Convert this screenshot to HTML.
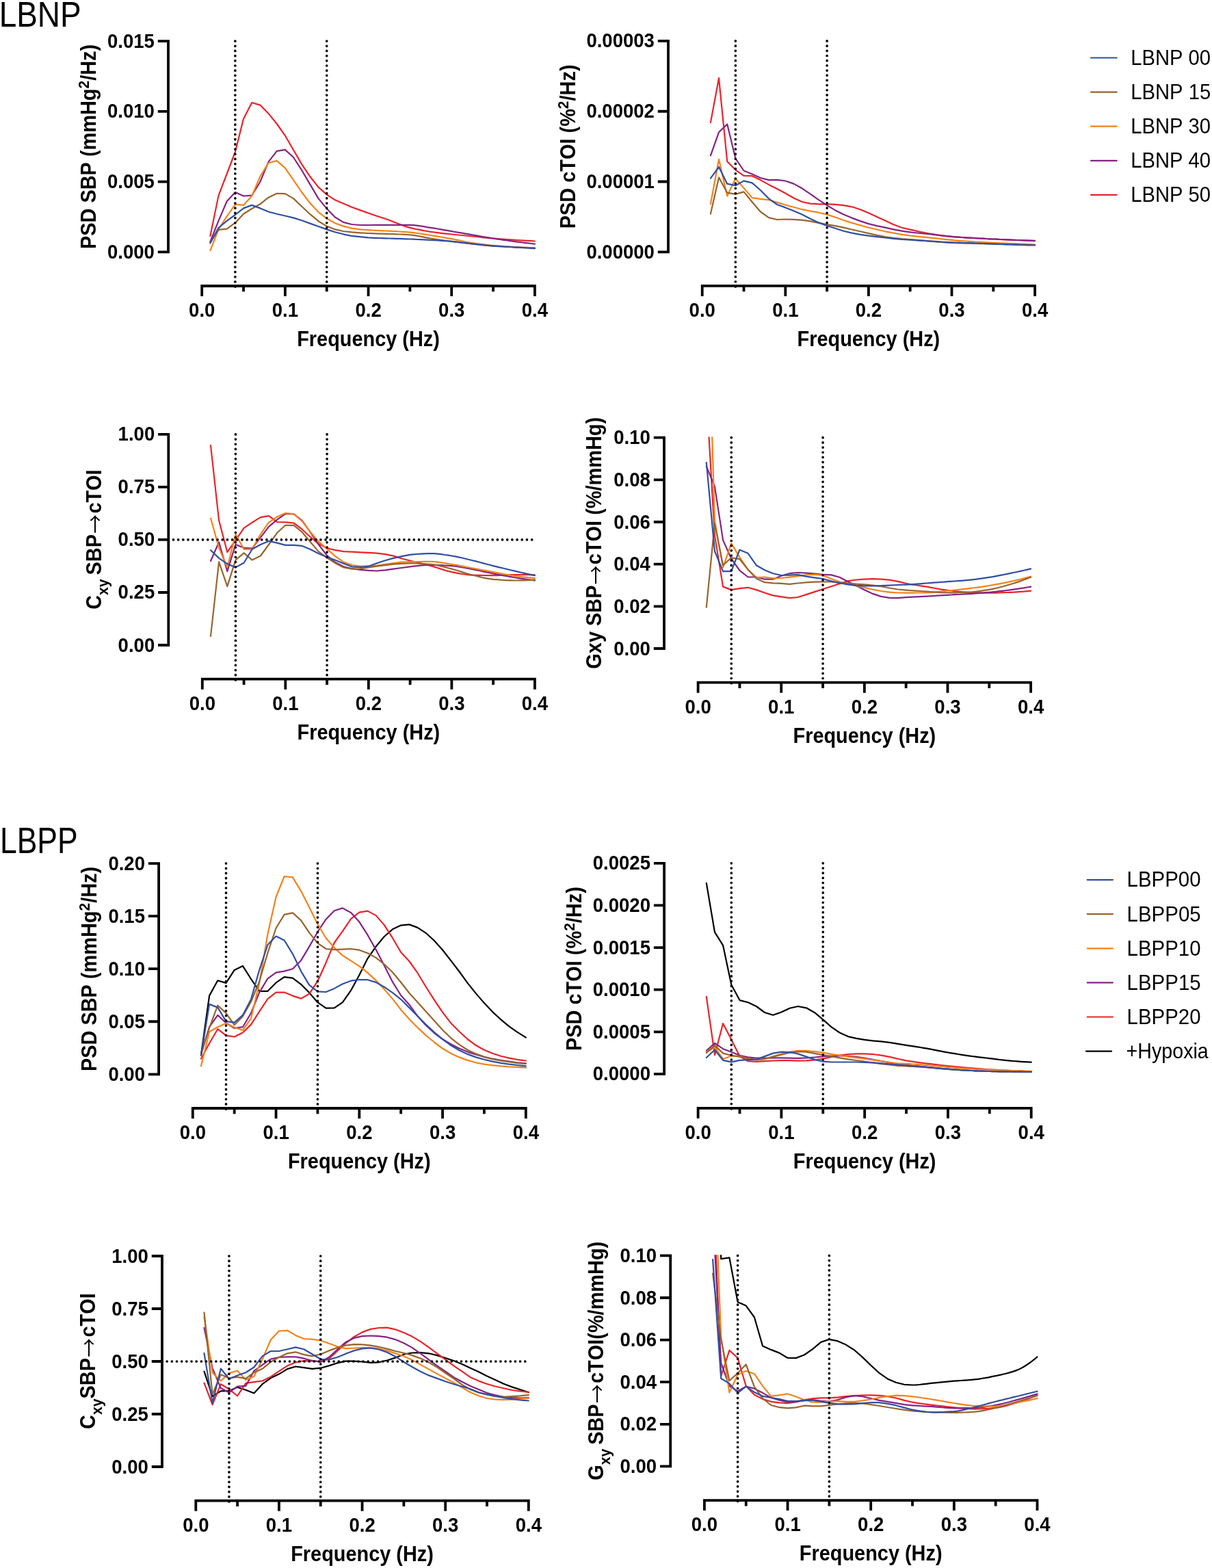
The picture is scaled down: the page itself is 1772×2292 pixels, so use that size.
<!DOCTYPE html><html><head><meta charset="utf-8"><title>LBNP / LBPP spectral analysis</title>
<style>html,body{margin:0;padding:0;background:#fff;}svg{display:block;}text{font-kerning:none;}.t{font-family:"Liberation Sans",Arial,sans-serif;font-weight:bold;fill:#000;}.r{font-family:"Liberation Sans",Arial,sans-serif;font-weight:normal;fill:#000;}.a{font-family:"Noto Sans CJK JP","Liberation Sans",sans-serif;font-weight:normal;}</style></head><body>
<svg xmlns="http://www.w3.org/2000/svg" width="1772" height="2292" viewBox="0 0 1772 2292">
<rect width="1772" height="2292" fill="#fff"/>
<defs>
<clipPath id="cp1"><rect x="285.2" y="59.0" width="506.7" height="377.9"/></clipPath>
<clipPath id="cp2"><rect x="1016.7" y="58.9" width="506.4" height="378.0"/></clipPath>
<clipPath id="cp3"><rect x="285.8" y="633.8" width="506.1" height="377.8"/></clipPath>
<clipPath id="cp4"><rect x="1010.6" y="638.6" width="506.5" height="377.9"/></clipPath>
<clipPath id="cp5"><rect x="271.8" y="1261.0" width="507.0" height="377.9"/></clipPath>
<clipPath id="cp6"><rect x="1010.6" y="1260.7" width="507.1" height="378.0"/></clipPath>
<clipPath id="cp7"><rect x="276.3" y="1834.9" width="506.5" height="377.7"/></clipPath>
<clipPath id="cp8"><rect x="1019.9" y="1834.3" width="506.6" height="377.7"/></clipPath>
</defs>
<text class="r" transform="translate(-1.37 38.60) scale(0.8790 1)" font-size="52.3" text-anchor="start">LBNP</text>
<text class="r" transform="translate(-0.05 1246.60) scale(0.8421 1)" font-size="52.8" text-anchor="start">LBPP</text>
<g clip-path="url(#cp1)" fill="none" stroke-width="2.2" stroke-linejoin="round" stroke-linecap="round">
<path d="M307.4 344.8 L319.5 285.9 L331.7 254.0 L343.9 222.0 L356.0 173.7 L368.2 150.0 L380.4 153.6 L392.5 165.9 L404.7 181.0 L416.9 198.3 L429.0 219.2 L441.2 240.1 L453.4 258.3 L465.5 273.6 L477.7 284.4 L489.9 292.3 L502.0 297.5 L514.2 302.7 L526.4 307.1 L538.5 311.5 L543.6 313.3 L548.7 315.0 L553.8 316.7 L558.8 318.3 L563.9 320.0 L569.0 321.8 L574.0 323.7 L579.1 325.7 L584.2 327.7 L589.2 329.7 L594.3 331.4 L599.4 332.9 L604.5 334.1 L609.5 335.2 L614.6 336.2 L619.7 337.2 L624.7 338.0 L629.8 338.8 L634.9 339.5 L639.9 340.2 L645.0 340.8 L650.1 341.4 L655.2 341.9 L660.2 342.5 L665.3 343.0 L670.4 343.5 L675.4 344.0 L680.5 344.5 L685.6 345.0 L690.6 345.5 L695.7 346.0 L700.8 346.5 L705.9 347.1 L710.9 347.6 L716.0 348.1 L721.1 348.5 L726.1 348.9 L731.2 349.3 L736.3 349.7 L741.3 350.0 L746.4 350.4 L751.5 350.7 L756.6 351.0 L761.6 351.3 L766.7 351.6 L771.8 351.9 L776.8 352.2 L781.9 352.5" stroke="#ec2229"/>
<path d="M307.4 353.2 L319.5 322.9 L331.7 294.3 L343.9 280.9 L356.0 286.5 L368.2 285.7 L380.4 265.7 L392.5 236.6 L404.7 220.9 L416.9 218.9 L429.0 230.0 L441.2 248.8 L453.4 269.6 L465.5 290.1 L477.7 304.9 L489.9 317.5 L502.0 324.9 L514.2 328.0 L526.4 329.0 L538.5 329.0 L543.6 329.0 L548.7 328.9 L553.8 328.9 L558.8 328.9 L563.9 328.8 L569.0 328.8 L574.0 328.8 L579.1 328.8 L584.2 328.8 L589.2 328.8 L594.3 328.9 L599.4 328.9 L604.5 329.1 L609.5 329.6 L614.6 330.4 L619.7 331.2 L624.7 332.1 L629.8 332.9 L634.9 333.7 L639.9 334.5 L645.0 335.4 L650.1 336.3 L655.2 337.2 L660.2 338.1 L665.3 339.0 L670.4 339.8 L675.4 340.7 L680.5 341.6 L685.6 342.4 L690.6 343.3 L695.7 344.2 L700.8 345.1 L705.9 346.0 L710.9 346.8 L716.0 347.7 L721.1 348.5 L726.1 349.3 L731.2 350.0 L736.3 350.8 L741.3 351.5 L746.4 352.2 L751.5 352.9 L756.6 353.6 L761.6 354.2 L766.7 354.8 L771.8 355.4 L776.8 356.0 L781.9 356.6" stroke="#852285"/>
<path d="M307.4 366.1 L319.5 335.3 L331.7 316.2 L343.9 298.8 L356.0 299.9 L368.2 286.5 L380.4 257.9 L392.5 238.2 L404.7 234.9 L416.9 245.6 L429.0 263.1 L441.2 281.0 L453.4 297.1 L465.5 310.1 L477.7 319.3 L489.9 326.2 L502.0 330.6 L514.2 333.6 L526.4 335.4 L538.5 336.2 L543.6 336.5 L548.7 336.8 L553.8 337.0 L558.8 337.3 L563.9 337.5 L569.0 337.7 L574.0 338.0 L579.1 338.2 L584.2 338.5 L589.2 338.8 L594.3 339.2 L599.4 339.6 L604.5 340.1 L609.5 340.8 L614.6 341.5 L619.7 342.3 L624.7 343.2 L629.8 344.0 L634.9 344.8 L639.9 345.6 L645.0 346.5 L650.1 347.4 L655.2 348.3 L660.2 349.2 L665.3 350.2 L670.4 351.2 L675.4 352.3 L680.5 353.3 L685.6 354.3 L690.6 355.1 L695.7 355.8 L700.8 356.5 L705.9 357.2 L710.9 357.8 L716.0 358.3 L721.1 358.8 L726.1 359.2 L731.2 359.7 L736.3 360.1 L741.3 360.4 L746.4 360.7 L751.5 361.0 L756.6 361.3 L761.6 361.5 L766.7 361.7 L771.8 361.9 L776.8 362.1 L781.9 362.2" stroke="#f4821b"/>
<path d="M307.4 353.8 L319.5 335.8 L331.7 334.7 L343.9 325.7 L356.0 312.8 L368.2 305.0 L380.4 298.3 L392.5 288.7 L404.7 282.8 L416.9 283.1 L429.0 290.1 L441.2 301.8 L453.4 313.2 L465.5 323.2 L477.7 330.6 L489.9 335.4 L502.0 338.0 L514.2 339.4 L526.4 340.3 L538.5 341.0 L543.6 341.2 L548.7 341.4 L553.8 341.6 L558.8 341.7 L563.9 341.9 L569.0 342.0 L574.0 342.2 L579.1 342.3 L584.2 342.5 L589.2 342.7 L594.3 343.0 L599.4 343.3 L604.5 343.8 L609.5 344.6 L614.6 345.6 L619.7 346.6 L624.7 347.6 L629.8 348.5 L634.9 349.3 L639.9 350.0 L645.0 350.8 L650.1 351.5 L655.2 352.2 L660.2 352.9 L665.3 353.6 L670.4 354.2 L675.4 354.8 L680.5 355.4 L685.6 356.0 L690.6 356.6 L695.7 357.2 L700.8 357.7 L705.9 358.2 L710.9 358.7 L716.0 359.2 L721.1 359.6 L726.1 359.9 L731.2 360.2 L736.3 360.5 L741.3 360.8 L746.4 361.0 L751.5 361.3 L756.6 361.6 L761.6 361.8 L766.7 362.1 L771.8 362.3 L776.8 362.6 L781.9 362.8" stroke="#98642c"/>
<path d="M307.4 355.5 L319.5 333.0 L331.7 322.9 L343.9 314.0 L356.0 304.4 L368.2 299.9 L380.4 304.4 L392.5 309.5 L404.7 312.8 L416.9 315.5 L429.0 318.4 L441.2 322.3 L453.4 326.6 L465.5 331.0 L477.7 335.4 L489.9 339.3 L502.0 342.3 L514.2 344.9 L526.4 346.2 L538.5 347.3 L543.6 347.6 L548.7 347.8 L553.8 348.0 L558.8 348.2 L563.9 348.3 L569.0 348.5 L574.0 348.6 L579.1 348.8 L584.2 348.9 L589.2 349.1 L594.3 349.3 L599.4 349.5 L604.5 349.7 L609.5 350.0 L614.6 350.2 L619.7 350.4 L624.7 350.7 L629.8 350.9 L634.9 351.2 L639.9 351.5 L645.0 351.8 L650.1 352.2 L655.2 352.5 L660.2 352.9 L665.3 353.3 L670.4 353.9 L675.4 354.5 L680.5 355.1 L685.6 355.7 L690.6 356.3 L695.7 356.9 L700.8 357.5 L705.9 358.1 L710.9 358.7 L716.0 359.2 L721.1 359.6 L726.1 359.9 L731.2 360.2 L736.3 360.5 L741.3 360.8 L746.4 361.0 L751.5 361.3 L756.6 361.6 L761.6 361.9 L766.7 362.2 L771.8 362.5 L776.8 362.8 L781.9 363.1" stroke="#2f4fa3"/>
</g>
<line x1="343.87" y1="60.10" x2="343.87" y2="419.11" stroke="#000" stroke-width="3.7" stroke-linecap="round" stroke-dasharray="0 7.180"/>
<line x1="477.71" y1="60.10" x2="477.71" y2="419.11" stroke="#000" stroke-width="3.7" stroke-linecap="round" stroke-dasharray="0 7.180"/>
<path d="M246.00 58.20 V370.20 M246.00 368.30 H230.80 M246.00 265.57 H230.80 M246.00 162.83 H230.80 M246.00 60.10 H230.80 M293.30 418.00 H783.80 M295.20 418.00 V433.00 M356.04 418.00 V426.30 M416.88 418.00 V433.00 M477.71 418.00 V426.30 M538.55 418.00 V433.00 M599.39 418.00 V426.30 M660.22 418.00 V433.00 M721.06 418.00 V426.30 M781.90 418.00 V433.00" stroke="#000" stroke-width="3.8" fill="none" stroke-linecap="butt"/>
<text class="t" transform="translate(225.90 377.80) scale(0.9630 1)" font-size="28.6" text-anchor="end">0.000</text>
<text class="t" transform="translate(225.90 275.07) scale(0.9630 1)" font-size="28.6" text-anchor="end">0.005</text>
<text class="t" transform="translate(225.90 172.33) scale(0.9630 1)" font-size="28.6" text-anchor="end">0.010</text>
<text class="t" transform="translate(225.90 69.60) scale(0.9630 1)" font-size="28.6" text-anchor="end">0.015</text>
<text class="t" transform="translate(295.20 463.30) scale(0.9630 1)" font-size="28.6" text-anchor="middle">0.0</text>
<text class="t" transform="translate(416.88 463.30) scale(0.9630 1)" font-size="28.6" text-anchor="middle">0.1</text>
<text class="t" transform="translate(538.55 463.30) scale(0.9630 1)" font-size="28.6" text-anchor="middle">0.2</text>
<text class="t" transform="translate(660.22 463.30) scale(0.9630 1)" font-size="28.6" text-anchor="middle">0.3</text>
<text class="t" transform="translate(781.90 463.30) scale(0.9630 1)" font-size="28.6" text-anchor="middle">0.4</text>
<text class="t" transform="translate(538.55 506.20) scale(0.9264 1)" font-size="31.2" text-anchor="middle">Frequency (Hz)</text>
<text class="t" transform="translate(139.70 362.16) rotate(-90) scale(0.9270 1)" x="-2.09" y="0" font-size="31.2"><tspan>PSD SBP (mmHg</tspan><tspan font-size="22.6" dy="-9.60">2</tspan><tspan dy="9.60">/Hz)</tspan></text>
<g clip-path="url(#cp2)" fill="none" stroke-width="2.2" stroke-linejoin="round" stroke-linecap="round">
<path d="M1038.9 179.1 L1051.0 114.2 L1063.2 235.9 L1075.3 248.3 L1087.5 256.9 L1099.7 257.2 L1111.8 263.1 L1124.0 269.9 L1136.1 276.1 L1148.3 282.5 L1160.5 289.5 L1172.6 295.0 L1184.8 297.6 L1196.9 298.4 L1209.1 298.4 L1221.3 298.9 L1233.4 300.1 L1245.6 302.3 L1257.7 306.2 L1269.9 311.3 L1282.1 316.9 L1294.2 322.6 L1306.4 328.2 L1318.5 332.7 L1330.7 335.6 L1335.8 336.7 L1340.8 337.9 L1345.9 339.0 L1351.0 340.0 L1356.0 341.0 L1361.1 341.9 L1366.2 342.7 L1371.2 343.5 L1376.3 344.2 L1381.4 344.8 L1386.4 345.4 L1391.5 345.9 L1396.6 346.3 L1401.6 346.7 L1406.7 347.0 L1411.8 347.3 L1416.8 347.6 L1421.9 347.9 L1427.0 348.2 L1432.0 348.5 L1437.1 348.7 L1442.2 349.0 L1447.2 349.3 L1452.3 349.5 L1457.4 349.7 L1462.4 350.0 L1467.5 350.2 L1472.6 350.4 L1477.6 350.6 L1482.7 350.8 L1487.8 351.0 L1492.8 351.2 L1497.9 351.3 L1503.0 351.5 L1508.0 351.7 L1513.1 351.8" stroke="#ec2229"/>
<path d="M1038.9 227.3 L1051.0 193.3 L1063.2 181.6 L1075.3 231.6 L1087.5 249.5 L1099.7 254.5 L1111.8 260.0 L1124.0 263.1 L1136.1 262.9 L1148.3 264.5 L1160.5 268.6 L1172.6 275.3 L1184.8 283.7 L1196.9 292.2 L1209.1 300.1 L1221.3 307.4 L1233.4 313.6 L1245.6 318.6 L1257.7 323.1 L1269.9 327.1 L1282.1 330.1 L1294.2 332.7 L1306.4 335.3 L1318.5 337.7 L1330.7 339.4 L1335.8 340.0 L1340.8 340.5 L1345.9 341.0 L1351.0 341.5 L1356.0 342.0 L1361.1 342.5 L1366.2 343.1 L1371.2 343.7 L1376.3 344.3 L1381.4 344.9 L1386.4 345.4 L1391.5 345.9 L1396.6 346.3 L1401.6 346.7 L1406.7 347.0 L1411.8 347.3 L1416.8 347.6 L1421.9 347.9 L1427.0 348.2 L1432.0 348.5 L1437.1 348.7 L1442.2 349.0 L1447.2 349.3 L1452.3 349.5 L1457.4 349.7 L1462.4 350.0 L1467.5 350.2 L1472.6 350.4 L1477.6 350.6 L1482.7 350.8 L1487.8 351.0 L1492.8 351.2 L1497.9 351.4 L1503.0 351.7 L1508.0 351.9 L1513.1 352.1" stroke="#852285"/>
<path d="M1038.9 298.3 L1051.0 232.8 L1063.2 286.6 L1075.3 260.7 L1087.5 274.9 L1099.7 289.1 L1111.8 290.9 L1124.0 292.2 L1136.1 295.9 L1148.3 299.5 L1160.5 302.8 L1172.6 306.2 L1184.8 308.5 L1196.9 310.7 L1209.1 313.6 L1221.3 317.5 L1233.4 322.0 L1245.6 325.9 L1257.7 329.3 L1269.9 332.7 L1282.1 335.5 L1294.2 338.3 L1306.4 340.6 L1318.5 342.8 L1330.7 344.5 L1335.8 345.1 L1340.8 345.6 L1345.9 346.1 L1351.0 346.6 L1356.0 347.1 L1361.1 347.6 L1366.2 348.2 L1371.2 348.7 L1376.3 349.3 L1381.4 349.9 L1386.4 350.4 L1391.5 350.9 L1396.6 351.3 L1401.6 351.8 L1406.7 352.1 L1411.8 352.5 L1416.8 352.9 L1421.9 353.2 L1427.0 353.5 L1432.0 353.8 L1437.1 354.1 L1442.2 354.4 L1447.2 354.6 L1452.3 354.9 L1457.4 355.1 L1462.4 355.4 L1467.5 355.6 L1472.6 355.8 L1477.6 356.0 L1482.7 356.2 L1487.8 356.4 L1492.8 356.6 L1497.9 356.8 L1503.0 357.1 L1508.0 357.3 L1513.1 357.5" stroke="#f4821b"/>
<path d="M1038.9 312.6 L1051.0 259.4 L1063.2 281.7 L1075.3 283.9 L1087.5 280.4 L1099.7 295.3 L1111.8 309.5 L1124.0 318.1 L1136.1 321.0 L1148.3 320.5 L1160.5 320.8 L1172.6 321.7 L1184.8 323.3 L1196.9 325.9 L1209.1 328.0 L1221.3 330.1 L1233.4 332.7 L1245.6 335.5 L1257.7 338.3 L1269.9 341.1 L1282.1 343.9 L1294.2 346.2 L1306.4 347.9 L1318.5 349.2 L1330.7 350.0 L1335.8 350.4 L1340.8 350.8 L1345.9 351.3 L1351.0 351.7 L1356.0 352.2 L1361.1 352.7 L1366.2 353.1 L1371.2 353.6 L1376.3 354.0 L1381.4 354.3 L1386.4 354.7 L1391.5 354.9 L1396.6 355.1 L1401.6 355.3 L1406.7 355.4 L1411.8 355.6 L1416.8 355.7 L1421.9 355.9 L1427.0 356.0 L1432.0 356.1 L1437.1 356.2 L1442.2 356.4 L1447.2 356.5 L1452.3 356.6 L1457.0 356.7 L1461.7 356.8 L1466.3 356.9 L1471.0 357.1 L1475.7 357.2 L1480.4 357.3 L1485.0 357.4 L1489.7 357.5 L1494.4 357.6 L1499.1 357.7 L1503.7 357.8 L1508.4 357.9 L1513.1 358.0" stroke="#98642c"/>
<path d="M1038.9 260.7 L1051.0 244.0 L1063.2 268.7 L1075.3 271.2 L1087.5 264.4 L1099.7 267.4 L1111.8 278.0 L1124.0 290.3 L1136.1 299.0 L1148.3 303.4 L1160.5 308.2 L1172.6 313.6 L1184.8 319.7 L1196.9 325.4 L1209.1 329.9 L1221.3 333.8 L1233.4 337.7 L1245.6 340.6 L1257.7 342.8 L1269.9 344.7 L1282.1 346.2 L1294.2 347.5 L1306.4 348.8 L1318.5 349.9 L1330.7 350.7 L1335.8 351.0 L1340.8 351.3 L1345.9 351.7 L1351.0 352.0 L1356.0 352.3 L1361.1 352.6 L1366.2 352.9 L1371.2 353.2 L1376.3 353.5 L1381.4 353.8 L1386.4 354.1 L1391.5 354.3 L1396.6 354.5 L1401.6 354.7 L1406.7 354.9 L1411.8 355.0 L1416.8 355.2 L1421.9 355.4 L1427.0 355.6 L1432.0 355.8 L1437.1 356.0 L1442.2 356.2 L1447.2 356.4 L1452.3 356.6 L1457.4 356.8 L1462.4 357.0 L1467.5 357.2 L1472.6 357.4 L1477.6 357.5 L1482.7 357.7 L1487.8 357.9 L1492.8 358.0 L1497.9 358.1 L1503.0 358.3 L1508.0 358.4 L1513.1 358.5" stroke="#2f4fa3"/>
</g>
<line x1="1075.34" y1="59.95" x2="1075.34" y2="418.96" stroke="#000" stroke-width="3.7" stroke-linecap="round" stroke-dasharray="0 7.180"/>
<line x1="1209.10" y1="59.95" x2="1209.10" y2="418.96" stroke="#000" stroke-width="3.7" stroke-linecap="round" stroke-dasharray="0 7.180"/>
<path d="M977.00 58.05 V370.20 M977.00 368.30 H961.80 M977.00 265.52 H961.80 M977.00 162.73 H961.80 M977.00 59.95 H961.80 M1024.80 417.95 H1515.00 M1026.70 417.95 V432.95 M1087.50 417.95 V426.25 M1148.30 417.95 V432.95 M1209.10 417.95 V426.25 M1269.90 417.95 V432.95 M1330.70 417.95 V426.25 M1391.50 417.95 V432.95 M1452.30 417.95 V426.25 M1513.10 417.95 V432.95" stroke="#000" stroke-width="3.8" fill="none" stroke-linecap="butt"/>
<text class="t" transform="translate(956.90 377.80) scale(0.9630 1)" font-size="28.6" text-anchor="end">0.00000</text>
<text class="t" transform="translate(956.90 275.02) scale(0.9630 1)" font-size="28.6" text-anchor="end">0.00001</text>
<text class="t" transform="translate(956.90 172.23) scale(0.9630 1)" font-size="28.6" text-anchor="end">0.00002</text>
<text class="t" transform="translate(956.90 69.45) scale(0.9630 1)" font-size="28.6" text-anchor="end">0.00003</text>
<text class="t" transform="translate(1026.70 463.25) scale(0.9630 1)" font-size="28.6" text-anchor="middle">0.0</text>
<text class="t" transform="translate(1148.30 463.25) scale(0.9630 1)" font-size="28.6" text-anchor="middle">0.1</text>
<text class="t" transform="translate(1269.90 463.25) scale(0.9630 1)" font-size="28.6" text-anchor="middle">0.2</text>
<text class="t" transform="translate(1391.50 463.25) scale(0.9630 1)" font-size="28.6" text-anchor="middle">0.3</text>
<text class="t" transform="translate(1513.10 463.25) scale(0.9630 1)" font-size="28.6" text-anchor="middle">0.4</text>
<text class="t" transform="translate(1269.90 506.15) scale(0.9264 1)" font-size="31.2" text-anchor="middle">Frequency (Hz)</text>
<text class="t" transform="translate(841.00 332.36) rotate(-90) scale(0.9270 1)" x="-2.09" y="0" font-size="31.2"><tspan>PSD cTOI (%</tspan><tspan font-size="22.6" dy="-9.60">2</tspan><tspan dy="9.60">/Hz)</tspan></text>
<g clip-path="url(#cp3)" fill="none" stroke-width="2.2" stroke-linejoin="round" stroke-linecap="round">
<path d="M308.0 651.0 L320.1 760.9 L332.3 807.0 L344.4 789.8 L356.6 771.9 L368.7 763.7 L380.9 756.1 L393.0 754.1 L405.2 763.0 L417.3 763.3 L429.5 764.5 L441.6 773.7 L453.8 785.0 L465.9 795.1 L478.1 801.3 L490.2 804.1 L502.4 806.1 L514.5 806.6 L526.7 807.3 L538.9 807.8 L551.0 808.6 L563.2 810.1 L575.3 812.6 L587.5 816.5 L599.6 819.5 L604.7 820.7 L609.7 822.0 L614.8 823.2 L619.9 824.5 L624.9 825.8 L630.0 827.1 L635.1 828.6 L640.1 830.2 L645.2 831.9 L650.2 833.5 L655.3 834.9 L660.4 836.1 L665.4 837.1 L670.5 838.1 L675.6 839.0 L680.6 839.7 L685.7 840.3 L690.8 840.6 L695.8 840.8 L700.9 840.9 L705.9 841.0 L711.0 841.1 L716.1 841.2 L721.1 841.2 L726.2 841.1 L731.3 840.9 L736.3 840.6 L741.4 840.4 L746.5 840.2 L751.5 840.1 L756.6 840.1 L761.6 840.1 L766.7 840.1 L771.8 840.2 L776.8 840.3 L781.9 840.4" stroke="#ec2229"/>
<path d="M308.0 820.0 L320.1 792.5 L332.3 835.1 L344.4 796.0 L356.6 800.8 L368.7 801.5 L380.9 785.7 L393.0 769.9 L405.2 759.6 L417.3 751.0 L429.5 751.3 L441.6 760.8 L453.8 778.2 L465.9 796.2 L478.1 812.0 L490.2 822.1 L502.4 828.3 L514.5 831.1 L526.7 832.8 L538.9 833.9 L551.0 834.5 L563.2 833.4 L575.3 831.7 L587.5 830.0 L599.6 828.3 L604.7 827.7 L609.7 827.2 L614.8 826.6 L619.9 826.2 L624.9 825.9 L630.0 825.8 L635.1 825.8 L640.1 826.0 L645.2 826.2 L650.2 826.5 L655.3 826.8 L660.4 827.1 L665.4 827.6 L670.5 828.3 L675.6 829.2 L680.6 830.2 L685.7 831.2 L690.8 832.2 L695.8 833.2 L700.9 834.2 L705.9 835.3 L711.0 836.3 L716.1 837.4 L721.1 838.4 L726.2 839.4 L731.3 840.4 L736.3 841.3 L741.4 842.2 L746.5 843.1 L751.5 844.0 L756.6 844.8 L761.6 845.6 L766.7 846.4 L771.8 847.1 L776.8 847.8 L781.9 848.5" stroke="#852285"/>
<path d="M308.0 757.5 L320.1 800.8 L332.3 829.6 L344.4 780.9 L356.6 802.8 L368.7 802.8 L380.9 780.9 L393.0 763.7 L405.2 755.4 L417.3 750.0 L429.5 751.2 L441.6 761.9 L453.8 777.7 L465.9 791.7 L478.1 802.4 L490.2 813.1 L502.4 821.6 L514.5 826.1 L526.7 827.7 L538.9 827.5 L551.0 826.6 L563.2 824.9 L575.3 823.2 L587.5 821.6 L599.6 821.2 L604.7 821.1 L609.7 821.0 L614.8 821.0 L619.9 820.9 L624.9 820.9 L630.0 820.9 L635.1 821.1 L640.1 821.6 L645.2 822.3 L650.2 823.2 L655.3 824.1 L660.4 824.9 L665.4 825.7 L670.5 826.6 L675.6 827.6 L680.6 828.6 L685.7 829.5 L690.8 830.5 L695.8 831.4 L700.9 832.4 L705.9 833.3 L711.0 834.2 L716.1 835.2 L721.1 836.1 L726.2 837.1 L731.3 838.1 L736.3 839.1 L741.4 840.0 L746.5 840.9 L751.5 841.7 L756.6 842.4 L761.6 843.0 L766.7 843.6 L771.8 844.2 L776.8 844.7 L781.9 845.1" stroke="#f4821b"/>
<path d="M308.0 930.0 L320.1 821.4 L332.3 857.1 L344.4 818.6 L356.6 808.3 L368.7 818.6 L380.9 812.5 L393.0 796.0 L405.2 778.8 L417.3 767.8 L429.5 767.9 L441.6 777.7 L453.8 792.3 L465.9 806.4 L478.1 815.4 L490.2 823.2 L502.4 829.4 L514.5 831.7 L526.7 831.3 L538.9 829.4 L551.0 827.7 L563.2 826.1 L575.3 824.6 L587.5 823.8 L599.6 823.3 L604.7 823.4 L609.7 823.5 L614.8 823.8 L619.9 824.1 L624.9 824.5 L630.0 824.9 L635.1 825.5 L640.1 826.5 L645.2 827.6 L650.2 828.9 L655.3 830.3 L660.4 831.6 L665.4 833.0 L670.5 834.5 L675.6 836.1 L680.6 837.7 L685.7 839.3 L690.8 840.6 L695.8 841.8 L700.9 843.1 L705.9 844.3 L711.0 845.3 L716.1 846.2 L721.1 846.8 L726.2 847.2 L731.3 847.6 L736.3 848.0 L741.4 848.3 L746.5 848.4 L751.5 848.5 L756.6 848.5 L761.6 848.4 L766.7 848.3 L771.8 848.1 L776.8 847.8 L781.9 847.4" stroke="#98642c"/>
<path d="M308.0 804.2 L320.1 815.9 L332.3 824.1 L344.4 829.4 L356.6 822.8 L368.7 802.8 L380.9 796.0 L393.0 790.9 L405.2 793.6 L417.3 796.9 L429.5 796.9 L441.6 797.9 L453.8 803.0 L465.9 809.2 L478.1 814.2 L490.2 818.7 L502.4 823.8 L514.5 828.3 L526.7 829.2 L538.9 827.7 L551.0 823.2 L563.2 819.3 L575.3 815.9 L587.5 813.1 L599.6 810.9 L604.7 810.4 L609.7 810.0 L614.8 809.6 L619.9 809.4 L624.9 809.2 L630.0 809.1 L635.1 809.2 L640.1 809.6 L645.2 810.2 L650.2 811.0 L655.3 811.7 L660.4 812.5 L665.4 813.4 L670.5 814.4 L675.6 815.5 L680.6 816.7 L685.7 818.0 L690.8 819.2 L695.8 820.4 L700.9 821.8 L705.9 823.1 L711.0 824.5 L716.1 825.8 L721.1 827.1 L726.2 828.4 L731.3 829.6 L736.3 830.8 L741.4 832.0 L746.5 833.2 L751.5 834.4 L756.6 835.6 L761.6 836.7 L766.7 837.9 L771.8 839.0 L776.8 840.1 L781.9 841.2" stroke="#2f4fa3"/>
</g>
<line x1="344.41" y1="634.90" x2="344.41" y2="993.91" stroke="#000" stroke-width="3.7" stroke-linecap="round" stroke-dasharray="0 7.180"/>
<line x1="478.09" y1="634.90" x2="478.09" y2="993.91" stroke="#000" stroke-width="3.7" stroke-linecap="round" stroke-dasharray="0 7.180"/>
<line x1="253.47" y1="788.95" x2="777.62" y2="788.95" stroke="#000" stroke-width="3.7" stroke-linecap="round" stroke-dasharray="0 7.180"/>
<path d="M246.30 633.00 V944.90 M246.30 943.00 H231.10 M246.30 865.98 H231.10 M246.30 788.95 H231.10 M246.30 711.92 H231.10 M246.30 634.90 H231.10 M293.90 992.70 H783.80 M295.80 992.70 V1007.70 M356.56 992.70 V1001.00 M417.32 992.70 V1007.70 M478.09 992.70 V1001.00 M538.85 992.70 V1007.70 M599.61 992.70 V1001.00 M660.38 992.70 V1007.70 M721.14 992.70 V1001.00 M781.90 992.70 V1007.70" stroke="#000" stroke-width="3.8" fill="none" stroke-linecap="butt"/>
<text class="t" transform="translate(226.20 952.50) scale(0.9630 1)" font-size="28.6" text-anchor="end">0.00</text>
<text class="t" transform="translate(226.20 875.48) scale(0.9630 1)" font-size="28.6" text-anchor="end">0.25</text>
<text class="t" transform="translate(226.20 798.45) scale(0.9630 1)" font-size="28.6" text-anchor="end">0.50</text>
<text class="t" transform="translate(226.20 721.42) scale(0.9630 1)" font-size="28.6" text-anchor="end">0.75</text>
<text class="t" transform="translate(226.20 644.40) scale(0.9630 1)" font-size="28.6" text-anchor="end">1.00</text>
<text class="t" transform="translate(295.80 1038.00) scale(0.9630 1)" font-size="28.6" text-anchor="middle">0.0</text>
<text class="t" transform="translate(417.32 1038.00) scale(0.9630 1)" font-size="28.6" text-anchor="middle">0.1</text>
<text class="t" transform="translate(538.85 1038.00) scale(0.9630 1)" font-size="28.6" text-anchor="middle">0.2</text>
<text class="t" transform="translate(660.38 1038.00) scale(0.9630 1)" font-size="28.6" text-anchor="middle">0.3</text>
<text class="t" transform="translate(781.90 1038.00) scale(0.9630 1)" font-size="28.6" text-anchor="middle">0.4</text>
<text class="t" transform="translate(538.85 1080.90) scale(0.9264 1)" font-size="31.2" text-anchor="middle">Frequency (Hz)</text>
<text class="t" transform="translate(148.10 889.67) rotate(-90) scale(0.9270 1)" x="-1.28" y="0" font-size="31.2"><tspan>C</tspan><tspan font-size="22.9" dy="9.80">xy </tspan><tspan dy="-9.80">SBP</tspan><tspan class="a" dx="1.45" font-size="29.9" dy="2.30">→</tspan><tspan dx="1.45" dy="-2.30">cTOI</tspan></text>
<g clip-path="url(#cp4)" fill="none" stroke-width="2.2" stroke-linejoin="round" stroke-linecap="round">
<path d="M1032.8 574.9 L1044.9 782.6 L1057.1 857.6 L1069.2 862.1 L1081.4 860.1 L1093.6 858.8 L1105.7 862.1 L1117.9 866.5 L1130.1 870.4 L1142.2 872.3 L1154.4 874.1 L1166.5 873.0 L1178.7 869.1 L1190.9 865.1 L1203.0 861.2 L1215.2 857.2 L1227.4 853.3 L1239.5 849.4 L1251.7 847.5 L1263.8 846.6 L1276.0 846.2 L1288.2 846.6 L1300.3 847.7 L1312.5 849.9 L1324.7 852.9 L1329.7 853.8 L1334.8 854.7 L1339.9 855.4 L1344.9 856.2 L1350.0 856.9 L1355.1 857.7 L1360.1 858.6 L1365.2 859.5 L1370.3 860.5 L1375.3 861.4 L1380.4 862.2 L1385.5 862.9 L1390.5 863.5 L1395.6 864.1 L1400.7 864.6 L1405.7 865.1 L1410.8 865.5 L1415.9 865.8 L1420.9 866.0 L1426.0 866.2 L1431.1 866.4 L1436.2 866.6 L1441.2 866.7 L1446.3 866.7 L1451.4 866.7 L1456.4 866.6 L1461.5 866.4 L1466.6 866.2 L1471.6 866.0 L1476.7 865.8 L1481.8 865.6 L1486.8 865.3 L1491.9 864.9 L1497.0 864.6 L1502.0 864.1 L1507.1 863.7" stroke="#ec2229"/>
<path d="M1032.8 681.9 L1044.9 710.8 L1057.1 789.6 L1069.2 816.5 L1081.4 833.8 L1093.6 843.5 L1105.7 843.5 L1117.9 846.7 L1130.1 846.7 L1142.2 841.8 L1154.4 838.2 L1166.5 837.0 L1178.7 837.6 L1190.9 838.7 L1203.0 839.8 L1215.2 840.4 L1227.4 843.7 L1239.5 849.9 L1251.7 856.1 L1263.8 862.3 L1276.0 867.9 L1288.2 871.9 L1300.3 873.9 L1312.5 874.1 L1324.7 873.2 L1329.7 872.9 L1334.8 872.6 L1339.9 872.4 L1344.9 872.1 L1350.0 871.9 L1355.1 871.6 L1360.1 871.3 L1365.2 871.0 L1370.3 870.7 L1375.3 870.4 L1380.4 870.1 L1385.5 869.8 L1390.5 869.5 L1395.6 869.2 L1400.7 869.0 L1405.7 868.7 L1410.8 868.4 L1415.9 868.1 L1420.9 867.8 L1426.0 867.4 L1431.1 867.1 L1436.2 866.7 L1441.2 866.2 L1446.3 865.8 L1451.4 865.3 L1456.4 864.8 L1461.5 864.2 L1466.6 863.6 L1471.6 863.0 L1476.7 862.3 L1481.8 861.6 L1486.8 860.9 L1491.9 860.1 L1497.0 859.4 L1502.0 858.5 L1507.1 857.7" stroke="#852285"/>
<path d="M1032.8 359.0 L1044.9 760.8 L1057.1 829.4 L1069.2 794.1 L1081.4 814.6 L1093.6 832.6 L1105.7 844.1 L1117.9 843.5 L1130.1 845.4 L1142.2 845.0 L1154.4 843.6 L1166.5 842.1 L1178.7 840.4 L1190.9 839.8 L1203.0 840.9 L1215.2 846.0 L1227.4 850.5 L1239.5 853.3 L1251.7 856.1 L1263.8 858.9 L1276.0 861.7 L1288.2 864.0 L1300.3 865.7 L1312.5 866.5 L1324.7 866.6 L1329.7 866.6 L1334.8 866.6 L1339.9 866.5 L1344.9 866.5 L1350.0 866.5 L1355.1 866.4 L1360.1 866.2 L1365.2 865.8 L1370.3 865.3 L1375.3 864.7 L1380.4 864.1 L1385.5 863.5 L1390.5 863.0 L1395.6 862.5 L1400.7 862.0 L1405.7 861.4 L1410.8 860.9 L1415.9 860.3 L1420.9 859.7 L1426.0 859.0 L1431.1 858.3 L1436.2 857.6 L1441.2 856.8 L1446.3 856.0 L1451.4 855.2 L1456.4 854.2 L1461.5 853.3 L1466.6 852.3 L1471.6 851.3 L1476.7 850.2 L1481.8 849.1 L1486.8 847.9 L1491.9 846.7 L1497.0 845.4 L1502.0 844.1 L1507.1 842.7" stroke="#f4821b"/>
<path d="M1032.8 887.7 L1044.9 765.9 L1057.1 826.2 L1069.2 815.3 L1081.4 817.2 L1093.6 832.6 L1105.7 845.4 L1117.9 851.2 L1130.1 852.4 L1142.2 852.9 L1154.4 853.8 L1166.5 852.5 L1178.7 851.4 L1190.9 850.7 L1203.0 850.3 L1215.2 850.5 L1227.4 851.6 L1239.5 852.7 L1251.7 853.6 L1263.8 854.4 L1276.0 855.6 L1288.2 857.2 L1300.3 859.5 L1312.5 861.5 L1324.7 862.6 L1329.7 863.0 L1334.8 863.3 L1339.9 863.7 L1344.9 864.0 L1350.0 864.3 L1355.1 864.6 L1360.1 865.0 L1365.2 865.3 L1370.3 865.7 L1375.3 866.1 L1380.4 866.3 L1385.5 866.4 L1390.5 866.4 L1395.6 866.3 L1400.7 866.2 L1405.7 866.0 L1410.8 865.8 L1415.9 865.6 L1420.9 865.3 L1426.0 864.8 L1431.1 864.2 L1436.2 863.4 L1441.2 862.6 L1446.3 861.8 L1451.4 860.9 L1456.4 859.8 L1461.5 858.5 L1466.6 857.2 L1471.6 855.8 L1476.7 854.3 L1481.8 852.8 L1486.8 851.1 L1491.9 849.4 L1497.0 847.5 L1502.0 845.6 L1507.1 843.6" stroke="#98642c"/>
<path d="M1032.8 676.2 L1044.9 805.6 L1057.1 835.1 L1069.2 835.1 L1081.4 803.7 L1093.6 808.8 L1105.7 826.2 L1117.9 833.2 L1130.1 838.3 L1142.2 841.0 L1154.4 840.7 L1166.5 840.1 L1178.7 842.6 L1190.9 844.3 L1203.0 846.0 L1215.2 849.4 L1227.4 852.2 L1239.5 854.4 L1251.7 855.9 L1263.8 856.3 L1276.0 856.3 L1288.2 856.1 L1300.3 855.6 L1312.5 855.0 L1324.7 854.6 L1329.7 854.3 L1334.8 854.0 L1339.9 853.7 L1344.9 853.3 L1350.0 852.9 L1355.1 852.5 L1360.1 852.1 L1365.2 851.7 L1370.3 851.4 L1375.3 851.0 L1380.4 850.6 L1385.5 850.2 L1390.5 849.8 L1395.6 849.5 L1400.7 849.1 L1405.7 848.8 L1410.8 848.4 L1415.9 847.9 L1420.9 847.4 L1426.0 846.8 L1431.1 846.1 L1436.2 845.4 L1441.2 844.7 L1446.3 843.9 L1451.4 843.1 L1456.4 842.2 L1461.5 841.2 L1466.6 840.2 L1471.6 839.1 L1476.7 838.1 L1481.8 837.0 L1486.8 836.0 L1491.9 834.9 L1497.0 833.7 L1502.0 832.6 L1507.1 831.4" stroke="#2f4fa3"/>
</g>
<line x1="1069.25" y1="639.70" x2="1069.25" y2="998.71" stroke="#000" stroke-width="3.7" stroke-linecap="round" stroke-dasharray="0 7.180"/>
<line x1="1203.04" y1="639.70" x2="1203.04" y2="998.71" stroke="#000" stroke-width="3.7" stroke-linecap="round" stroke-dasharray="0 7.180"/>
<path d="M971.00 637.80 V949.90 M971.00 948.00 H955.80 M971.00 886.34 H955.80 M971.00 824.68 H955.80 M971.00 763.02 H955.80 M971.00 701.36 H955.80 M971.00 639.70 H955.80 M1018.70 997.65 H1509.00 M1020.60 997.65 V1012.65 M1081.41 997.65 V1005.95 M1142.22 997.65 V1012.65 M1203.04 997.65 V1005.95 M1263.85 997.65 V1012.65 M1324.66 997.65 V1005.95 M1385.47 997.65 V1012.65 M1446.29 997.65 V1005.95 M1507.10 997.65 V1012.65" stroke="#000" stroke-width="3.8" fill="none" stroke-linecap="butt"/>
<text class="t" transform="translate(950.90 957.50) scale(0.9630 1)" font-size="28.6" text-anchor="end">0.00</text>
<text class="t" transform="translate(950.90 895.84) scale(0.9630 1)" font-size="28.6" text-anchor="end">0.02</text>
<text class="t" transform="translate(950.90 834.18) scale(0.9630 1)" font-size="28.6" text-anchor="end">0.04</text>
<text class="t" transform="translate(950.90 772.52) scale(0.9630 1)" font-size="28.6" text-anchor="end">0.06</text>
<text class="t" transform="translate(950.90 710.86) scale(0.9630 1)" font-size="28.6" text-anchor="end">0.08</text>
<text class="t" transform="translate(950.90 649.20) scale(0.9630 1)" font-size="28.6" text-anchor="end">0.10</text>
<text class="t" transform="translate(1020.60 1042.95) scale(0.9630 1)" font-size="28.6" text-anchor="middle">0.0</text>
<text class="t" transform="translate(1142.22 1042.95) scale(0.9630 1)" font-size="28.6" text-anchor="middle">0.1</text>
<text class="t" transform="translate(1263.85 1042.95) scale(0.9630 1)" font-size="28.6" text-anchor="middle">0.2</text>
<text class="t" transform="translate(1385.47 1042.95) scale(0.9630 1)" font-size="28.6" text-anchor="middle">0.3</text>
<text class="t" transform="translate(1507.10 1042.95) scale(0.9630 1)" font-size="28.6" text-anchor="middle">0.4</text>
<text class="t" transform="translate(1263.85 1085.85) scale(0.9264 1)" font-size="31.2" text-anchor="middle">Frequency (Hz)</text>
<text class="t" transform="translate(879.20 976.49) rotate(-90) scale(0.9270 1)" x="-1.28" y="0" font-size="31.2"><tspan>Gxy SBP</tspan><tspan class="a" dx="1.45" font-size="29.9" dy="2.30">→</tspan><tspan dx="1.45" dy="-2.30">cTOI (%/mmHg)</tspan></text>
<g clip-path="url(#cp5)" fill="none" stroke-width="2.2" stroke-linejoin="round" stroke-linecap="round">
<path d="M294.0 1541.7 L306.1 1455.4 L318.3 1433.3 L330.5 1436.9 L342.7 1417.9 L354.9 1411.9 L367.0 1431.0 L379.2 1448.8 L391.4 1448.8 L403.6 1436.4 L415.7 1428.1 L427.9 1429.7 L440.1 1438.8 L452.2 1451.1 L464.4 1465.2 L476.6 1473.6 L488.8 1473.4 L500.9 1465.2 L513.1 1447.7 L525.3 1425.2 L537.5 1401.1 L549.6 1383.6 L561.8 1369.0 L574.0 1358.3 L586.2 1352.6 L598.3 1351.4 L610.5 1355.9 L622.7 1363.8 L634.9 1375.0 L647.0 1388.5 L659.2 1404.2 L671.4 1420.0 L683.6 1436.9 L695.8 1452.1 L707.9 1466.1 L720.1 1479.1 L732.3 1490.3 L744.4 1500.4 L756.6 1508.9 L768.8 1516.5" stroke="#000000"/>
<path d="M294.0 1547.6 L306.1 1525.0 L318.3 1504.2 L330.5 1513.7 L342.7 1515.5 L354.9 1509.5 L367.0 1497.6 L379.2 1478.6 L391.4 1460.1 L403.6 1450.6 L415.7 1450.6 L427.9 1455.6 L440.1 1459.6 L452.2 1452.8 L464.4 1434.2 L476.6 1407.2 L488.8 1378.0 L500.9 1361.1 L513.1 1343.1 L525.3 1333.6 L537.5 1331.6 L549.6 1338.1 L561.8 1352.1 L574.0 1371.2 L586.2 1392.0 L598.3 1405.0 L610.5 1422.2 L622.7 1442.5 L634.9 1461.6 L647.0 1479.6 L659.2 1495.4 L671.4 1507.7 L683.6 1519.0 L695.8 1528.0 L707.9 1534.7 L720.1 1539.8 L732.3 1543.7 L744.4 1546.6 L756.6 1548.8 L768.8 1550.5" stroke="#ec2229"/>
<path d="M294.0 1540.5 L306.1 1501.2 L318.3 1483.9 L330.5 1495.2 L342.7 1503.0 L354.9 1501.2 L367.0 1481.0 L379.2 1450.6 L391.4 1430.4 L403.6 1421.6 L415.7 1419.6 L427.9 1416.2 L440.1 1403.9 L452.2 1383.6 L464.4 1362.2 L476.6 1343.7 L488.8 1331.3 L500.9 1327.4 L513.1 1334.1 L525.3 1347.6 L537.5 1366.7 L549.6 1388.1 L561.8 1411.2 L574.0 1435.4 L586.2 1455.0 L598.3 1468.4 L610.5 1485.2 L622.7 1498.8 L634.9 1510.0 L647.0 1519.0 L659.2 1526.3 L671.4 1532.5 L683.6 1537.6 L695.8 1541.5 L707.9 1544.9 L720.1 1547.7 L732.3 1549.9 L744.4 1551.6 L756.6 1553.3 L768.8 1554.4" stroke="#852285"/>
<path d="M294.0 1558.3 L306.1 1508.3 L318.3 1501.2 L330.5 1495.8 L342.7 1501.8 L354.9 1506.0 L367.0 1488.7 L379.2 1436.9 L391.4 1365.5 L403.6 1311.0 L415.7 1281.0 L427.9 1282.4 L440.1 1302.6 L452.2 1326.2 L464.4 1351.0 L476.6 1371.2 L488.8 1385.3 L500.9 1396.6 L513.1 1404.4 L525.3 1412.3 L537.5 1421.9 L549.6 1433.1 L561.8 1446.1 L574.0 1460.1 L586.2 1476.0 L598.3 1489.7 L610.5 1502.1 L622.7 1513.4 L634.9 1523.5 L647.0 1532.5 L659.2 1539.8 L671.4 1545.4 L683.6 1549.9 L695.8 1553.3 L707.9 1555.6 L720.1 1557.2 L732.3 1558.4 L744.4 1559.3 L756.6 1559.9 L768.8 1560.6" stroke="#f4821b"/>
<path d="M294.0 1540.5 L306.1 1502.4 L318.3 1469.6 L330.5 1481.0 L342.7 1498.2 L354.9 1485.7 L367.0 1464.3 L379.2 1434.5 L391.4 1392.9 L403.6 1356.5 L415.7 1336.9 L427.9 1334.3 L440.1 1345.4 L452.2 1363.4 L464.4 1378.6 L476.6 1387.0 L488.8 1388.1 L500.9 1387.6 L513.1 1387.0 L525.3 1388.7 L537.5 1393.2 L549.6 1399.9 L561.8 1409.5 L574.0 1421.3 L586.2 1436.0 L598.3 1451.5 L610.5 1465.0 L622.7 1478.5 L634.9 1492.0 L647.0 1505.5 L659.2 1517.3 L671.4 1526.9 L683.6 1534.7 L695.8 1540.4 L707.9 1544.9 L720.1 1548.2 L732.3 1550.5 L744.4 1552.2 L756.6 1553.9 L768.8 1555.0" stroke="#98642c"/>
<path d="M294.0 1542.9 L306.1 1467.9 L318.3 1472.6 L330.5 1492.9 L342.7 1494.6 L354.9 1483.9 L367.0 1460.7 L379.2 1417.9 L391.4 1381.0 L403.6 1368.5 L415.7 1374.5 L427.9 1394.3 L440.1 1419.6 L452.2 1439.9 L464.4 1449.4 L476.6 1450.0 L488.8 1444.9 L500.9 1438.2 L513.1 1433.7 L525.3 1432.0 L537.5 1432.2 L549.6 1435.9 L561.8 1442.7 L574.0 1451.1 L586.2 1460.8 L598.3 1472.9 L610.5 1485.2 L622.7 1497.6 L634.9 1508.9 L647.0 1519.0 L659.2 1528.0 L671.4 1535.3 L683.6 1540.9 L695.8 1545.4 L707.9 1548.8 L720.1 1551.6 L732.3 1553.9 L744.4 1555.6 L756.6 1557.0 L768.8 1558.4" stroke="#2f4fa3"/>
</g>
<line x1="330.50" y1="1262.10" x2="330.50" y2="1621.11" stroke="#000" stroke-width="3.7" stroke-linecap="round" stroke-dasharray="0 7.180"/>
<line x1="464.42" y1="1262.10" x2="464.42" y2="1621.11" stroke="#000" stroke-width="3.7" stroke-linecap="round" stroke-dasharray="0 7.180"/>
<path d="M232.10 1260.20 V1572.20 M232.10 1570.30 H216.90 M232.10 1493.25 H216.90 M232.10 1416.20 H216.90 M232.10 1339.15 H216.90 M232.10 1262.10 H216.90 M279.90 1620.00 H770.70 M281.80 1620.00 V1635.00 M342.68 1620.00 V1628.30 M403.55 1620.00 V1635.00 M464.42 1620.00 V1628.30 M525.30 1620.00 V1635.00 M586.17 1620.00 V1628.30 M647.05 1620.00 V1635.00 M707.92 1620.00 V1628.30 M768.80 1620.00 V1635.00" stroke="#000" stroke-width="3.8" fill="none" stroke-linecap="butt"/>
<text class="t" transform="translate(212.00 1579.80) scale(0.9630 1)" font-size="28.6" text-anchor="end">0.00</text>
<text class="t" transform="translate(212.00 1502.75) scale(0.9630 1)" font-size="28.6" text-anchor="end">0.05</text>
<text class="t" transform="translate(212.00 1425.70) scale(0.9630 1)" font-size="28.6" text-anchor="end">0.10</text>
<text class="t" transform="translate(212.00 1348.65) scale(0.9630 1)" font-size="28.6" text-anchor="end">0.15</text>
<text class="t" transform="translate(212.00 1271.60) scale(0.9630 1)" font-size="28.6" text-anchor="end">0.20</text>
<text class="t" transform="translate(281.80 1665.30) scale(0.9630 1)" font-size="28.6" text-anchor="middle">0.0</text>
<text class="t" transform="translate(403.55 1665.30) scale(0.9630 1)" font-size="28.6" text-anchor="middle">0.1</text>
<text class="t" transform="translate(525.30 1665.30) scale(0.9630 1)" font-size="28.6" text-anchor="middle">0.2</text>
<text class="t" transform="translate(647.05 1665.30) scale(0.9630 1)" font-size="28.6" text-anchor="middle">0.3</text>
<text class="t" transform="translate(768.80 1665.30) scale(0.9630 1)" font-size="28.6" text-anchor="middle">0.4</text>
<text class="t" transform="translate(525.30 1708.20) scale(0.9264 1)" font-size="31.2" text-anchor="middle">Frequency (Hz)</text>
<text class="t" transform="translate(140.75 1564.16) rotate(-90) scale(0.9270 1)" x="-2.09" y="0" font-size="31.2"><tspan>PSD SBP (mmHg</tspan><tspan font-size="22.6" dy="-9.60">2</tspan><tspan dy="9.60">/Hz)</tspan></text>
<g clip-path="url(#cp6)" fill="none" stroke-width="2.2" stroke-linejoin="round" stroke-linecap="round">
<path d="M1032.8 1290.9 L1045.0 1362.7 L1057.1 1381.9 L1069.3 1439.6 L1081.5 1462.1 L1093.7 1465.3 L1105.8 1471.0 L1118.0 1480.0 L1130.2 1483.8 L1142.4 1479.5 L1154.6 1473.8 L1166.7 1471.0 L1178.9 1473.3 L1191.1 1480.2 L1203.3 1490.4 L1215.4 1501.1 L1227.6 1509.5 L1239.8 1515.1 L1252.0 1517.9 L1264.2 1519.8 L1276.3 1521.3 L1288.5 1522.4 L1300.7 1523.9 L1312.9 1525.8 L1325.0 1527.8 L1330.1 1528.6 L1335.2 1529.4 L1340.3 1530.2 L1345.3 1531.0 L1350.4 1531.8 L1355.5 1532.7 L1360.6 1533.6 L1365.6 1534.6 L1370.7 1535.6 L1375.8 1536.6 L1380.9 1537.6 L1385.9 1538.5 L1391.0 1539.4 L1396.1 1540.2 L1401.1 1541.0 L1406.2 1541.8 L1411.3 1542.6 L1416.4 1543.3 L1421.4 1544.0 L1426.5 1544.6 L1431.6 1545.3 L1436.7 1545.9 L1441.7 1546.5 L1446.8 1547.1 L1451.9 1547.7 L1457.0 1548.4 L1462.0 1549.0 L1467.1 1549.6 L1472.2 1550.1 L1477.3 1550.6 L1482.3 1551.0 L1487.4 1551.4 L1492.5 1551.8 L1497.6 1552.1 L1502.6 1552.4 L1507.7 1552.6" stroke="#000000"/>
<path d="M1032.8 1456.9 L1045.0 1542.2 L1057.1 1496.0 L1069.3 1519.7 L1081.5 1544.1 L1093.7 1551.2 L1105.8 1551.8 L1118.0 1551.2 L1130.2 1550.5 L1142.4 1550.1 L1154.6 1550.2 L1166.7 1550.6 L1178.9 1550.3 L1191.1 1549.4 L1203.3 1547.7 L1215.4 1544.9 L1227.6 1542.7 L1239.8 1541.2 L1252.0 1540.4 L1264.2 1540.4 L1276.3 1541.0 L1288.5 1542.7 L1300.7 1544.9 L1312.9 1547.7 L1325.0 1550.3 L1330.1 1551.1 L1335.2 1551.9 L1340.3 1552.6 L1345.3 1553.3 L1350.4 1554.0 L1355.5 1554.6 L1360.6 1555.2 L1365.6 1555.8 L1370.7 1556.4 L1375.8 1557.0 L1380.9 1557.6 L1385.9 1558.1 L1391.0 1558.6 L1396.1 1559.1 L1401.1 1559.6 L1406.2 1560.1 L1411.3 1560.6 L1416.4 1561.0 L1421.4 1561.4 L1426.5 1561.8 L1431.6 1562.2 L1436.7 1562.6 L1441.7 1563.0 L1446.8 1563.3 L1451.9 1563.6 L1457.0 1563.9 L1462.0 1564.2 L1467.1 1564.5 L1472.2 1564.7 L1477.3 1565.0 L1482.3 1565.3 L1487.4 1565.5 L1492.5 1565.7 L1497.6 1566.0 L1502.6 1566.2 L1507.7 1566.4" stroke="#ec2229"/>
<path d="M1032.8 1535.8 L1045.0 1524.9 L1057.1 1533.2 L1069.3 1537.7 L1081.5 1542.8 L1093.7 1545.4 L1105.8 1546.7 L1118.0 1546.7 L1130.2 1546.4 L1142.4 1546.3 L1154.6 1546.6 L1166.7 1546.8 L1178.9 1546.4 L1191.1 1545.5 L1203.3 1544.4 L1215.4 1543.5 L1227.6 1543.2 L1239.8 1543.8 L1252.0 1544.9 L1264.2 1546.6 L1276.3 1548.9 L1288.5 1551.1 L1300.7 1553.4 L1312.9 1555.6 L1325.0 1557.0 L1330.1 1557.5 L1335.2 1558.0 L1340.3 1558.4 L1345.3 1558.9 L1350.4 1559.3 L1355.5 1559.8 L1360.6 1560.3 L1365.6 1560.8 L1370.7 1561.3 L1375.8 1561.8 L1380.9 1562.3 L1385.9 1562.7 L1391.0 1563.1 L1396.1 1563.5 L1401.1 1563.9 L1406.2 1564.2 L1411.3 1564.5 L1416.4 1564.8 L1421.4 1565.0 L1426.5 1565.3 L1431.6 1565.5 L1436.7 1565.7 L1441.7 1565.9 L1446.8 1566.0 L1451.9 1566.1 L1457.0 1566.2 L1462.0 1566.3 L1467.1 1566.4 L1472.2 1566.4 L1477.3 1566.5 L1482.3 1566.6 L1487.4 1566.6 L1492.5 1566.7 L1497.6 1566.8 L1502.6 1566.8 L1507.7 1566.9" stroke="#852285"/>
<path d="M1032.8 1538.3 L1045.0 1530.6 L1057.1 1548.0 L1069.3 1543.5 L1081.5 1544.1 L1093.7 1547.3 L1105.8 1549.2 L1118.0 1548.0 L1130.2 1544.1 L1142.4 1540.6 L1154.6 1537.6 L1166.7 1535.9 L1178.9 1535.9 L1191.1 1537.1 L1203.3 1538.7 L1215.4 1540.8 L1227.6 1542.7 L1239.8 1544.6 L1252.0 1546.1 L1264.2 1547.7 L1276.3 1549.4 L1288.5 1551.1 L1300.7 1552.8 L1312.9 1554.3 L1325.0 1554.9 L1330.1 1555.2 L1335.2 1555.5 L1340.3 1555.9 L1345.3 1556.2 L1350.4 1556.6 L1355.5 1557.0 L1360.6 1557.4 L1365.6 1557.9 L1370.7 1558.4 L1375.8 1558.9 L1380.9 1559.3 L1385.9 1559.8 L1391.0 1560.2 L1396.1 1560.7 L1401.1 1561.1 L1406.2 1561.5 L1411.3 1561.9 L1416.4 1562.2 L1421.4 1562.5 L1426.5 1562.8 L1431.6 1563.0 L1436.7 1563.3 L1441.7 1563.5 L1446.8 1563.7 L1451.9 1563.9 L1457.0 1564.1 L1462.0 1564.3 L1467.1 1564.5 L1472.2 1564.6 L1477.3 1564.8 L1482.3 1565.0 L1487.4 1565.1 L1492.5 1565.2 L1497.6 1565.4 L1502.6 1565.5 L1507.7 1565.6" stroke="#f4821b"/>
<path d="M1032.8 1539.0 L1045.0 1528.1 L1057.1 1539.6 L1069.3 1542.8 L1081.5 1544.7 L1093.7 1547.3 L1105.8 1549.2 L1118.0 1548.0 L1130.2 1544.7 L1142.4 1541.8 L1154.6 1538.8 L1166.7 1537.1 L1178.9 1537.6 L1191.1 1539.9 L1203.3 1542.1 L1215.4 1544.1 L1227.6 1546.4 L1239.8 1548.3 L1252.0 1550.0 L1264.2 1551.7 L1276.3 1553.4 L1288.5 1555.1 L1300.7 1556.5 L1312.9 1557.9 L1325.0 1558.5 L1330.1 1558.8 L1335.2 1559.0 L1340.3 1559.3 L1345.3 1559.6 L1350.4 1560.0 L1355.5 1560.3 L1360.6 1560.7 L1365.6 1561.1 L1370.7 1561.6 L1375.8 1562.1 L1380.9 1562.5 L1385.9 1562.9 L1391.0 1563.3 L1396.1 1563.6 L1401.1 1563.9 L1406.2 1564.3 L1411.3 1564.5 L1416.4 1564.8 L1421.4 1565.0 L1426.5 1565.3 L1431.6 1565.5 L1436.7 1565.7 L1441.7 1565.9 L1446.8 1566.0 L1451.9 1566.1 L1457.0 1566.2 L1462.0 1566.3 L1467.1 1566.4 L1472.2 1566.4 L1477.3 1566.5 L1482.3 1566.6 L1487.4 1566.6 L1492.5 1566.7 L1497.6 1566.8 L1502.6 1566.8 L1507.7 1566.9" stroke="#98642c"/>
<path d="M1032.8 1546.0 L1045.0 1534.5 L1057.1 1549.9 L1069.3 1552.4 L1081.5 1549.9 L1093.7 1549.2 L1105.8 1548.6 L1118.0 1544.1 L1130.2 1539.6 L1142.4 1537.7 L1154.6 1538.0 L1166.7 1540.4 L1178.9 1544.6 L1191.1 1548.9 L1203.3 1551.7 L1215.4 1552.5 L1227.6 1552.5 L1239.8 1552.5 L1252.0 1552.5 L1264.2 1552.8 L1276.3 1553.4 L1288.5 1554.3 L1300.7 1555.4 L1312.9 1556.5 L1325.0 1557.2 L1330.1 1557.6 L1335.2 1558.0 L1340.3 1558.4 L1345.3 1558.9 L1350.4 1559.3 L1355.5 1559.8 L1360.6 1560.3 L1365.6 1560.8 L1370.7 1561.3 L1375.8 1561.8 L1380.9 1562.3 L1385.9 1562.7 L1391.0 1563.1 L1396.1 1563.5 L1401.1 1563.9 L1406.2 1564.2 L1411.3 1564.5 L1416.4 1564.8 L1421.4 1565.0 L1426.5 1565.3 L1431.6 1565.5 L1436.7 1565.7 L1441.7 1565.9 L1446.8 1566.0 L1451.9 1566.1 L1457.0 1566.2 L1462.0 1566.3 L1467.1 1566.4 L1472.2 1566.4 L1477.3 1566.5 L1482.3 1566.6 L1487.4 1566.6 L1492.5 1566.7 L1497.6 1566.8 L1502.6 1566.8 L1507.7 1566.9" stroke="#2f4fa3"/>
</g>
<line x1="1069.31" y1="1261.80" x2="1069.31" y2="1620.81" stroke="#000" stroke-width="3.7" stroke-linecap="round" stroke-dasharray="0 7.180"/>
<line x1="1203.26" y1="1261.80" x2="1203.26" y2="1620.81" stroke="#000" stroke-width="3.7" stroke-linecap="round" stroke-dasharray="0 7.180"/>
<path d="M971.10 1259.90 V1571.80 M971.10 1569.90 H955.90 M971.10 1508.28 H955.90 M971.10 1446.66 H955.90 M971.10 1385.04 H955.90 M971.10 1323.42 H955.90 M971.10 1261.80 H955.90 M1018.70 1619.80 H1509.60 M1020.60 1619.80 V1634.80 M1081.49 1619.80 V1628.10 M1142.38 1619.80 V1634.80 M1203.26 1619.80 V1628.10 M1264.15 1619.80 V1634.80 M1325.04 1619.80 V1628.10 M1385.93 1619.80 V1634.80 M1446.81 1619.80 V1628.10 M1507.70 1619.80 V1634.80" stroke="#000" stroke-width="3.8" fill="none" stroke-linecap="butt"/>
<text class="t" transform="translate(951.00 1579.40) scale(0.9630 1)" font-size="28.6" text-anchor="end">0.0000</text>
<text class="t" transform="translate(951.00 1517.78) scale(0.9630 1)" font-size="28.6" text-anchor="end">0.0005</text>
<text class="t" transform="translate(951.00 1456.16) scale(0.9630 1)" font-size="28.6" text-anchor="end">0.0010</text>
<text class="t" transform="translate(951.00 1394.54) scale(0.9630 1)" font-size="28.6" text-anchor="end">0.0015</text>
<text class="t" transform="translate(951.00 1332.92) scale(0.9630 1)" font-size="28.6" text-anchor="end">0.0020</text>
<text class="t" transform="translate(951.00 1271.30) scale(0.9630 1)" font-size="28.6" text-anchor="end">0.0025</text>
<text class="t" transform="translate(1020.60 1665.10) scale(0.9630 1)" font-size="28.6" text-anchor="middle">0.0</text>
<text class="t" transform="translate(1142.38 1665.10) scale(0.9630 1)" font-size="28.6" text-anchor="middle">0.1</text>
<text class="t" transform="translate(1264.15 1665.10) scale(0.9630 1)" font-size="28.6" text-anchor="middle">0.2</text>
<text class="t" transform="translate(1385.93 1665.10) scale(0.9630 1)" font-size="28.6" text-anchor="middle">0.3</text>
<text class="t" transform="translate(1507.70 1665.10) scale(0.9630 1)" font-size="28.6" text-anchor="middle">0.4</text>
<text class="t" transform="translate(1264.15 1708.00) scale(0.9264 1)" font-size="31.2" text-anchor="middle">Frequency (Hz)</text>
<text class="t" transform="translate(849.70 1534.08) rotate(-90) scale(0.9270 1)" x="-2.09" y="0" font-size="31.2"><tspan>PSD cTOI (%</tspan><tspan font-size="22.6" dy="-9.60">2</tspan><tspan dy="9.60">/Hz)</tspan></text>
<g clip-path="url(#cp7)" fill="none" stroke-width="2.2" stroke-linejoin="round" stroke-linecap="round">
<path d="M298.5 2004.7 L310.6 2041.0 L322.8 2033.4 L334.9 2033.2 L347.1 2027.7 L359.3 2031.8 L371.4 2036.5 L383.6 2023.2 L395.8 2014.3 L407.9 2008.6 L420.1 2001.1 L432.2 1997.5 L444.4 1999.2 L456.6 2000.9 L468.7 1999.7 L480.9 1996.4 L493.1 1992.4 L505.2 1989.6 L517.4 1989.6 L529.5 1990.5 L541.7 1991.9 L553.9 1991.3 L566.0 1988.5 L578.2 1984.6 L590.4 1979.7 L602.5 1977.5 L614.7 1977.2 L626.8 1978.3 L639.0 1981.1 L651.2 1985.1 L663.3 1989.0 L675.5 1994.1 L687.7 1999.7 L699.8 2005.3 L712.0 2011.5 L724.1 2017.1 L736.3 2022.7 L748.5 2027.4 L760.6 2031.3 L772.8 2035.3" stroke="#000000"/>
<path d="M298.5 2021.6 L310.6 2053.3 L322.8 2023.3 L334.9 2030.5 L347.1 2040.5 L359.3 2021.9 L371.4 2020.1 L383.6 2018.5 L395.8 2012.4 L407.9 2004.3 L420.1 1996.4 L432.2 1991.3 L444.4 1989.1 L456.6 1989.4 L468.7 1990.2 L480.9 1986.2 L493.1 1975.0 L505.2 1963.7 L517.4 1954.2 L529.5 1947.4 L541.7 1942.9 L553.9 1941.0 L566.0 1940.7 L578.2 1943.3 L590.4 1948.0 L602.5 1953.6 L614.7 1960.9 L626.8 1969.3 L639.0 1978.3 L651.2 1987.3 L663.3 1996.3 L675.5 2004.7 L687.7 2013.2 L699.8 2018.6 L712.0 2023.0 L724.1 2026.5 L736.3 2029.2 L748.5 2032.0 L760.6 2033.6 L772.8 2034.9" stroke="#ec2229"/>
<path d="M298.5 1940.8 L310.6 1999.8 L322.8 2029.0 L334.9 2035.5 L347.1 2026.6 L359.3 2025.9 L371.4 2003.9 L383.6 1995.1 L395.8 1986.6 L407.9 1984.0 L420.1 1983.3 L432.2 1983.4 L444.4 1985.7 L456.6 1989.1 L468.7 1990.7 L480.9 1984.0 L493.1 1972.7 L505.2 1962.1 L517.4 1955.9 L529.5 1953.1 L541.7 1952.5 L553.9 1953.1 L566.0 1954.7 L578.2 1958.1 L590.4 1963.2 L602.5 1969.9 L614.7 1978.3 L626.8 1987.3 L639.0 1996.3 L651.2 2004.7 L663.3 2013.2 L675.5 2019.7 L687.7 2026.0 L699.8 2031.0 L712.0 2036.1 L724.1 2039.4 L736.3 2041.9 L748.5 2043.2 L760.6 2043.6 L772.8 2043.2" stroke="#852285"/>
<path d="M298.5 1925.0 L310.6 2006.5 L322.8 2018.5 L334.9 2007.4 L347.1 2003.5 L359.3 2017.0 L371.4 2012.0 L383.6 1987.0 L395.8 1958.5 L407.9 1945.5 L420.1 1944.8 L432.2 1951.9 L444.4 1957.0 L456.6 1957.6 L468.7 1959.5 L480.9 1963.7 L493.1 1968.2 L505.2 1971.1 L517.4 1970.7 L529.5 1969.9 L541.7 1969.9 L553.9 1971.6 L566.0 1974.4 L578.2 1978.4 L590.4 1982.5 L602.5 1987.9 L614.7 1994.6 L626.8 2001.4 L639.0 2008.1 L651.2 2014.6 L663.3 2021.0 L675.5 2028.1 L687.7 2035.3 L699.8 2040.3 L712.0 2044.0 L724.1 2045.7 L736.3 2046.1 L748.5 2045.7 L760.6 2044.8 L772.8 2043.8" stroke="#f4821b"/>
<path d="M298.5 1918.5 L310.6 2038.4 L322.8 2009.3 L334.9 2014.3 L347.1 2012.8 L359.3 2015.1 L371.4 2006.2 L383.6 2000.8 L395.8 1990.8 L407.9 1984.0 L420.1 1978.3 L432.2 1976.3 L444.4 1980.1 L456.6 1982.3 L468.7 1979.5 L480.9 1974.4 L493.1 1969.9 L505.2 1966.6 L517.4 1965.2 L529.5 1965.4 L541.7 1966.6 L553.9 1968.8 L566.0 1971.6 L578.2 1975.0 L590.4 1977.8 L602.5 1981.1 L614.7 1985.6 L626.8 1991.2 L639.0 1998.6 L651.2 2007.0 L663.3 2015.0 L675.5 2024.0 L687.7 2031.0 L699.8 2035.7 L712.0 2038.6 L724.1 2041.1 L736.3 2041.9 L748.5 2041.1 L760.6 2040.3 L772.8 2039.2" stroke="#98642c"/>
<path d="M298.5 1978.1 L310.6 2051.1 L322.8 2000.5 L334.9 2015.5 L347.1 2010.5 L359.3 2006.2 L371.4 1998.5 L383.6 1982.4 L395.8 1975.0 L407.9 1975.0 L420.1 1972.3 L432.2 1969.4 L444.4 1972.2 L456.6 1979.5 L468.7 1986.8 L480.9 1987.4 L493.1 1984.0 L505.2 1978.9 L517.4 1974.4 L529.5 1971.4 L541.7 1970.5 L553.9 1972.5 L566.0 1976.7 L578.2 1982.9 L590.4 1991.0 L602.5 1998.0 L614.7 2004.7 L626.8 2010.4 L639.0 2014.9 L651.2 2019.3 L663.3 2023.2 L675.5 2026.8 L687.7 2030.2 L699.8 2035.3 L712.0 2038.2 L724.1 2040.7 L736.3 2043.2 L748.5 2045.2 L760.6 2046.5 L772.8 2047.5" stroke="#2f4fa3"/>
</g>
<line x1="334.95" y1="1836.00" x2="334.95" y2="2195.01" stroke="#000" stroke-width="3.7" stroke-linecap="round" stroke-dasharray="0 7.180"/>
<line x1="468.74" y1="1836.00" x2="468.74" y2="2195.01" stroke="#000" stroke-width="3.7" stroke-linecap="round" stroke-dasharray="0 7.180"/>
<line x1="244.15" y1="1990.00" x2="767.79" y2="1990.00" stroke="#000" stroke-width="3.7" stroke-linecap="round" stroke-dasharray="0 7.173"/>
<path d="M237.00 1834.10 V2145.90 M237.00 2144.00 H221.80 M237.00 2067.00 H221.80 M237.00 1990.00 H221.80 M237.00 1913.00 H221.80 M237.00 1836.00 H221.80 M284.40 2193.65 H774.70 M286.30 2193.65 V2208.65 M347.11 2193.65 V2201.95 M407.93 2193.65 V2208.65 M468.74 2193.65 V2201.95 M529.55 2193.65 V2208.65 M590.36 2193.65 V2201.95 M651.17 2193.65 V2208.65 M711.99 2193.65 V2201.95 M772.80 2193.65 V2208.65" stroke="#000" stroke-width="3.8" fill="none" stroke-linecap="butt"/>
<text class="t" transform="translate(216.90 2153.50) scale(0.9630 1)" font-size="28.6" text-anchor="end">0.00</text>
<text class="t" transform="translate(216.90 2076.50) scale(0.9630 1)" font-size="28.6" text-anchor="end">0.25</text>
<text class="t" transform="translate(216.90 1999.50) scale(0.9630 1)" font-size="28.6" text-anchor="end">0.50</text>
<text class="t" transform="translate(216.90 1922.50) scale(0.9630 1)" font-size="28.6" text-anchor="end">0.75</text>
<text class="t" transform="translate(216.90 1845.50) scale(0.9630 1)" font-size="28.6" text-anchor="end">1.00</text>
<text class="t" transform="translate(286.30 2238.95) scale(0.9630 1)" font-size="28.6" text-anchor="middle">0.0</text>
<text class="t" transform="translate(407.93 2238.95) scale(0.9630 1)" font-size="28.6" text-anchor="middle">0.1</text>
<text class="t" transform="translate(529.55 2238.95) scale(0.9630 1)" font-size="28.6" text-anchor="middle">0.2</text>
<text class="t" transform="translate(651.17 2238.95) scale(0.9630 1)" font-size="28.6" text-anchor="middle">0.3</text>
<text class="t" transform="translate(772.80 2238.95) scale(0.9630 1)" font-size="28.6" text-anchor="middle">0.4</text>
<text class="t" transform="translate(529.55 2281.85) scale(0.9264 1)" font-size="31.2" text-anchor="middle">Frequency (Hz)</text>
<text class="t" transform="translate(138.90 2087.77) rotate(-90) scale(0.9270 1)" x="-1.28" y="0" font-size="31.2"><tspan>C</tspan><tspan font-size="22.9" dy="9.80">xy</tspan><tspan dy="-9.80">SBP</tspan><tspan class="a" dx="1.45" font-size="29.9" dy="2.30">→</tspan><tspan dx="1.45" dy="-2.30">cTOI</tspan></text>
<g clip-path="url(#cp8)" fill="none" stroke-width="2.2" stroke-linejoin="round" stroke-linecap="round">
<path d="M1042.1 1512.0 L1054.2 1840.1 L1066.4 1838.3 L1078.6 1903.3 L1090.7 1908.6 L1102.9 1925.5 L1115.1 1967.6 L1127.2 1972.9 L1139.4 1977.6 L1151.6 1985.0 L1163.7 1985.1 L1175.9 1980.5 L1188.0 1972.1 L1200.2 1961.9 L1212.4 1957.8 L1224.5 1960.2 L1236.7 1965.6 L1248.9 1973.2 L1261.0 1983.9 L1273.2 1995.7 L1285.4 2006.9 L1297.5 2015.4 L1309.7 2020.8 L1321.9 2023.8 L1334.0 2024.5 L1339.1 2024.4 L1344.2 2024.0 L1349.2 2023.4 L1354.3 2022.8 L1359.4 2022.2 L1364.4 2021.6 L1369.5 2021.1 L1374.6 2020.6 L1379.6 2020.1 L1384.7 2019.6 L1389.8 2019.1 L1394.8 2018.7 L1399.9 2018.3 L1405.0 2018.0 L1410.1 2017.6 L1415.1 2017.3 L1420.2 2016.9 L1425.3 2016.4 L1430.3 2015.8 L1435.4 2015.0 L1440.5 2014.2 L1445.5 2013.3 L1450.6 2012.2 L1455.7 2011.2 L1460.7 2010.1 L1465.8 2009.0 L1470.9 2007.8 L1476.0 2006.4 L1481.0 2004.9 L1486.1 2003.1 L1491.2 2000.9 L1496.2 1998.2 L1501.3 1995.0 L1506.4 1991.5 L1511.4 1987.6 L1516.5 1983.5" stroke="#000000"/>
<path d="M1042.1 1721.5 L1054.2 2011.4 L1066.4 1973.9 L1078.6 1985.0 L1090.7 2026.1 L1102.9 2038.7 L1115.1 2045.1 L1127.2 2048.8 L1139.4 2050.3 L1151.6 2051.1 L1163.7 2049.5 L1175.9 2046.3 L1188.0 2044.4 L1200.2 2043.3 L1212.4 2043.3 L1224.5 2042.6 L1236.7 2041.2 L1248.9 2040.1 L1261.0 2039.6 L1273.2 2039.3 L1285.4 2039.9 L1297.5 2041.2 L1309.7 2043.5 L1321.9 2046.9 L1334.0 2049.7 L1339.1 2050.6 L1344.2 2051.3 L1349.2 2052.0 L1354.3 2052.7 L1359.4 2053.3 L1364.4 2053.9 L1369.5 2054.5 L1374.6 2055.1 L1379.6 2055.7 L1384.7 2056.3 L1389.8 2056.8 L1394.8 2057.3 L1399.9 2057.8 L1405.0 2058.3 L1410.1 2058.8 L1415.1 2059.2 L1420.2 2059.5 L1425.3 2059.6 L1430.3 2059.5 L1435.4 2059.4 L1440.5 2059.1 L1445.5 2058.8 L1450.6 2058.3 L1455.7 2057.9 L1460.7 2057.2 L1465.8 2056.2 L1470.9 2054.9 L1476.0 2053.5 L1481.0 2051.9 L1486.1 2050.4 L1491.2 2048.8 L1496.2 2047.2 L1501.3 2045.4 L1506.4 2043.5 L1511.4 2041.5 L1516.5 2039.4" stroke="#ec2229"/>
<path d="M1042.1 1774.0 L1054.2 1992.4 L1066.4 2026.1 L1078.6 2033.5 L1090.7 2026.6 L1102.9 2029.8 L1115.1 2036.1 L1127.2 2043.0 L1139.4 2046.7 L1151.6 2049.4 L1163.7 2049.0 L1175.9 2047.4 L1188.0 2046.0 L1200.2 2047.8 L1212.4 2048.6 L1224.5 2046.3 L1236.7 2042.4 L1248.9 2040.1 L1261.0 2041.2 L1273.2 2044.1 L1285.4 2046.9 L1297.5 2048.9 L1309.7 2050.8 L1321.9 2053.1 L1334.0 2054.3 L1339.1 2054.7 L1344.2 2055.0 L1349.2 2055.3 L1354.3 2055.6 L1359.4 2055.9 L1364.4 2056.2 L1369.5 2056.6 L1374.6 2057.0 L1379.6 2057.5 L1384.7 2057.9 L1389.8 2058.2 L1394.8 2058.3 L1399.9 2058.3 L1405.0 2058.3 L1410.1 2058.2 L1415.1 2058.1 L1420.2 2058.0 L1425.3 2057.9 L1430.3 2057.6 L1435.4 2057.1 L1440.5 2056.5 L1445.5 2055.7 L1450.6 2054.8 L1455.7 2053.9 L1460.7 2052.9 L1465.8 2051.8 L1470.9 2050.5 L1476.0 2049.2 L1481.0 2047.8 L1486.1 2046.4 L1491.2 2045.0 L1496.2 2043.6 L1501.3 2042.1 L1506.4 2040.6 L1511.4 2039.1 L1516.5 2037.5" stroke="#852285"/>
<path d="M1042.1 1648.9 L1054.2 1954.4 L1066.4 2035.6 L1078.6 2009.2 L1090.7 2004.0 L1102.9 2008.2 L1115.1 2026.1 L1127.2 2040.9 L1139.4 2039.3 L1151.6 2037.5 L1163.7 2041.5 L1175.9 2046.3 L1188.0 2049.7 L1200.2 2049.7 L1212.4 2048.9 L1224.5 2048.2 L1236.7 2048.9 L1248.9 2048.9 L1261.0 2047.4 L1273.2 2045.5 L1285.4 2042.9 L1297.5 2041.0 L1309.7 2039.9 L1321.9 2040.1 L1334.0 2041.4 L1339.1 2042.0 L1344.2 2042.7 L1349.2 2043.5 L1354.3 2044.2 L1359.4 2045.0 L1364.4 2045.8 L1369.5 2046.6 L1374.6 2047.5 L1379.6 2048.4 L1384.7 2049.3 L1389.8 2050.2 L1394.8 2051.0 L1399.9 2051.8 L1405.0 2052.6 L1410.1 2053.4 L1415.1 2054.1 L1420.2 2054.7 L1425.3 2055.0 L1430.3 2055.2 L1435.4 2055.3 L1440.5 2055.4 L1445.5 2055.5 L1450.6 2055.6 L1455.7 2055.6 L1460.7 2055.3 L1465.8 2054.7 L1470.9 2053.7 L1476.0 2052.6 L1481.0 2051.4 L1486.1 2050.4 L1491.2 2049.4 L1496.2 2048.4 L1501.3 2047.4 L1506.4 2046.3 L1511.4 2045.2 L1516.5 2044.1" stroke="#f4821b"/>
<path d="M1042.1 1861.7 L1054.2 1957.6 L1066.4 2018.2 L1078.6 2007.1 L1090.7 1994.5 L1102.9 2027.2 L1115.1 2044.0 L1127.2 2054.0 L1139.4 2057.2 L1151.6 2058.4 L1163.7 2057.4 L1175.9 2054.7 L1188.0 2055.3 L1200.2 2055.3 L1212.4 2053.8 L1224.5 2052.3 L1236.7 2051.4 L1248.9 2050.8 L1261.0 2051.4 L1273.2 2053.1 L1285.4 2055.0 L1297.5 2057.0 L1309.7 2059.0 L1321.9 2060.9 L1334.0 2062.4 L1339.1 2062.8 L1344.2 2063.2 L1349.2 2063.6 L1354.3 2063.9 L1359.4 2064.1 L1364.4 2064.3 L1369.5 2064.4 L1374.6 2064.5 L1379.6 2064.6 L1384.7 2064.7 L1389.8 2064.8 L1394.8 2064.8 L1399.9 2064.8 L1405.0 2064.7 L1410.1 2064.5 L1415.1 2064.3 L1420.2 2064.0 L1425.3 2063.7 L1430.3 2063.2 L1435.4 2062.4 L1440.5 2061.4 L1445.5 2060.3 L1450.6 2059.1 L1455.7 2057.9 L1460.7 2056.7 L1465.8 2055.3 L1470.9 2053.9 L1476.0 2052.3 L1481.0 2050.8 L1486.1 2049.3 L1491.2 2047.8 L1496.2 2046.3 L1501.3 2044.7 L1506.4 2043.2 L1511.4 2041.6 L1516.5 2040.0" stroke="#98642c"/>
<path d="M1042.1 1841.2 L1054.2 2015.0 L1066.4 2022.4 L1078.6 2036.1 L1090.7 2026.6 L1102.9 2035.1 L1115.1 2040.9 L1127.2 2043.0 L1139.4 2045.1 L1151.6 2048.1 L1163.7 2048.2 L1175.9 2046.9 L1188.0 2046.9 L1200.2 2048.6 L1212.4 2050.8 L1224.5 2052.3 L1236.7 2052.7 L1248.9 2052.5 L1261.0 2051.1 L1273.2 2050.2 L1285.4 2050.2 L1297.5 2051.9 L1309.7 2054.2 L1321.9 2057.6 L1334.0 2060.7 L1339.1 2061.6 L1344.2 2062.4 L1349.2 2063.1 L1354.3 2063.8 L1359.4 2064.2 L1364.4 2064.3 L1369.5 2064.3 L1374.6 2064.1 L1379.6 2064.0 L1384.7 2063.7 L1389.8 2063.4 L1394.8 2063.1 L1399.9 2062.6 L1405.0 2061.7 L1410.1 2060.6 L1415.1 2059.3 L1420.2 2058.0 L1425.3 2056.8 L1430.3 2055.6 L1435.4 2054.2 L1440.5 2052.8 L1445.5 2051.4 L1450.6 2050.0 L1455.7 2048.7 L1460.7 2047.4 L1465.8 2046.2 L1470.9 2044.9 L1476.0 2043.7 L1481.0 2042.4 L1486.1 2041.2 L1491.2 2040.0 L1496.2 2038.7 L1501.3 2037.5 L1506.4 2036.2 L1511.4 2035.0 L1516.5 2033.7" stroke="#2f4fa3"/>
</g>
<line x1="1078.56" y1="1835.40" x2="1078.56" y2="2194.41" stroke="#000" stroke-width="3.7" stroke-linecap="round" stroke-dasharray="0 7.180"/>
<line x1="1212.38" y1="1835.40" x2="1212.38" y2="2194.41" stroke="#000" stroke-width="3.7" stroke-linecap="round" stroke-dasharray="0 7.180"/>
<path d="M980.20 1833.50 V2145.30 M980.20 2143.40 H965.00 M980.20 2081.80 H965.00 M980.20 2020.20 H965.00 M980.20 1958.60 H965.00 M980.20 1897.00 H965.00 M980.20 1835.40 H965.00 M1028.00 2193.10 H1518.40 M1029.90 2193.10 V2208.10 M1090.73 2193.10 V2201.40 M1151.55 2193.10 V2208.10 M1212.38 2193.10 V2201.40 M1273.20 2193.10 V2208.10 M1334.03 2193.10 V2201.40 M1394.85 2193.10 V2208.10 M1455.67 2193.10 V2201.40 M1516.50 2193.10 V2208.10" stroke="#000" stroke-width="3.8" fill="none" stroke-linecap="butt"/>
<text class="t" transform="translate(960.10 2152.90) scale(0.9630 1)" font-size="28.6" text-anchor="end">0.00</text>
<text class="t" transform="translate(960.10 2091.30) scale(0.9630 1)" font-size="28.6" text-anchor="end">0.02</text>
<text class="t" transform="translate(960.10 2029.70) scale(0.9630 1)" font-size="28.6" text-anchor="end">0.04</text>
<text class="t" transform="translate(960.10 1968.10) scale(0.9630 1)" font-size="28.6" text-anchor="end">0.06</text>
<text class="t" transform="translate(960.10 1906.50) scale(0.9630 1)" font-size="28.6" text-anchor="end">0.08</text>
<text class="t" transform="translate(960.10 1844.90) scale(0.9630 1)" font-size="28.6" text-anchor="end">0.10</text>
<text class="t" transform="translate(1029.90 2238.40) scale(0.9630 1)" font-size="28.6" text-anchor="middle">0.0</text>
<text class="t" transform="translate(1151.55 2238.40) scale(0.9630 1)" font-size="28.6" text-anchor="middle">0.1</text>
<text class="t" transform="translate(1273.20 2238.40) scale(0.9630 1)" font-size="28.6" text-anchor="middle">0.2</text>
<text class="t" transform="translate(1394.85 2238.40) scale(0.9630 1)" font-size="28.6" text-anchor="middle">0.3</text>
<text class="t" transform="translate(1516.50 2238.40) scale(0.9630 1)" font-size="28.6" text-anchor="middle">0.4</text>
<text class="t" transform="translate(1273.20 2281.30) scale(0.9264 1)" font-size="31.2" text-anchor="middle">Frequency (Hz)</text>
<text class="t" transform="translate(882.10 2162.67) rotate(-90) scale(0.9270 1)" x="-1.28" y="0" font-size="31.2"><tspan>G</tspan><tspan font-size="22.9" dy="9.80">xy </tspan><tspan dy="-9.80">SBP</tspan><tspan class="a" dx="1.45" font-size="29.9" dy="2.30">→</tspan><tspan dx="1.45" dy="-2.30">cTOI(%/mmHg)</tspan></text>
<line x1="1595.0" y1="84.5" x2="1632.7" y2="84.5" stroke="#2f4fa3" stroke-width="2.2" stroke-linecap="round"/>
<text class="r" transform="translate(1653.20 94.80) scale(0.9517 1)" font-size="30.7" text-anchor="start">LBNP 00</text>
<line x1="1595.0" y1="134.6" x2="1632.7" y2="134.6" stroke="#98642c" stroke-width="2.2" stroke-linecap="round"/>
<text class="r" transform="translate(1653.20 144.90) scale(0.9524 1)" font-size="30.7" text-anchor="start">LBNP 15</text>
<line x1="1595.0" y1="184.7" x2="1632.7" y2="184.7" stroke="#f4821b" stroke-width="2.2" stroke-linecap="round"/>
<text class="r" transform="translate(1653.20 195.00) scale(0.9517 1)" font-size="30.7" text-anchor="start">LBNP 30</text>
<line x1="1595.0" y1="234.8" x2="1632.7" y2="234.8" stroke="#852285" stroke-width="2.2" stroke-linecap="round"/>
<text class="r" transform="translate(1653.20 245.10) scale(0.9517 1)" font-size="30.7" text-anchor="start">LBNP 40</text>
<line x1="1595.0" y1="284.9" x2="1632.7" y2="284.9" stroke="#ec2229" stroke-width="2.2" stroke-linecap="round"/>
<text class="r" transform="translate(1653.20 295.20) scale(0.9517 1)" font-size="30.7" text-anchor="start">LBNP 50</text>
<line x1="1589.7" y1="1286.1" x2="1626.9" y2="1286.1" stroke="#2f4fa3" stroke-width="2.2" stroke-linecap="round"/>
<text class="r" transform="translate(1647.59 1296.40) scale(0.9584 1)" font-size="30.7" text-anchor="start">LBPP00</text>
<line x1="1589.7" y1="1336.2" x2="1626.9" y2="1336.2" stroke="#98642c" stroke-width="2.2" stroke-linecap="round"/>
<text class="r" transform="translate(1647.58 1346.50) scale(0.9592 1)" font-size="30.7" text-anchor="start">LBPP05</text>
<line x1="1589.7" y1="1386.3" x2="1626.9" y2="1386.3" stroke="#f4821b" stroke-width="2.2" stroke-linecap="round"/>
<text class="r" transform="translate(1647.59 1396.60) scale(0.9584 1)" font-size="30.7" text-anchor="start">LBPP10</text>
<line x1="1589.7" y1="1436.4" x2="1626.9" y2="1436.4" stroke="#852285" stroke-width="2.2" stroke-linecap="round"/>
<text class="r" transform="translate(1647.58 1446.70) scale(0.9592 1)" font-size="30.7" text-anchor="start">LBPP15</text>
<line x1="1589.7" y1="1486.5" x2="1626.9" y2="1486.5" stroke="#ec2229" stroke-width="2.2" stroke-linecap="round"/>
<text class="r" transform="translate(1647.59 1496.80) scale(0.9584 1)" font-size="30.7" text-anchor="start">LBPP20</text>
<line x1="1587.9" y1="1536.6" x2="1625.1" y2="1536.6" stroke="#000000" stroke-width="2.2" stroke-linecap="round"/>
<text class="r" transform="translate(1646.60 1546.90) scale(0.9329 1)" font-size="30.7" text-anchor="start">+Hypoxia</text>
</svg></body></html>
